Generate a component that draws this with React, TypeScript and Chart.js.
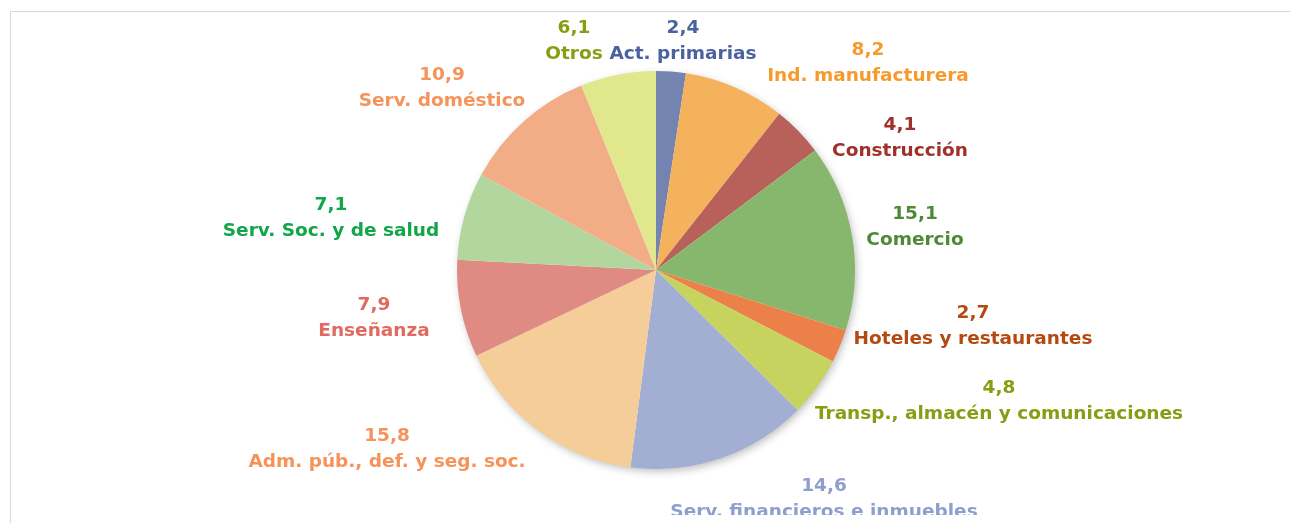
import React, { useEffect, useRef } from "react";
import { Chart, registerables } from "chart.js";

Chart.register(...registerables);

const categories = [
  "Act. primarias",
  "Ind. manufacturera",
  "Construcción",
  "Comercio",
  "Hoteles y restaurantes",
  "Transp., almacén y comunicaciones",
  "Serv. financieros e inmuebles",
  "Adm. púb., def. y seg. soc.",
  "Enseñanza",
  "Serv. Soc. y de salud",
  "Serv. doméstico",
  "Otros",
];

const shares = [2.4, 8.2, 4.1, 15.1, 2.7, 4.8, 14.6, 15.8, 7.9, 7.1, 10.9, 6.1];

const sliceColors = [
  "#7483AF", "#F5B25C", "#B8605A", "#87B76C", "#EB8149", "#C6D35E",
  "#A2AED2", "#F4CD98", "#DF8B83", "#B2D69D", "#F2AC86", "#E0E78C",
];

const labelColors = [
  "#4A62A0", "#F79A2C", "#A0302A", "#4E8A36", "#B44A12", "#8A9C14",
  "#8E9ECF", "#F6935A", "#E06A60", "#12A54A", "#F6935A", "#8A9C14",
];

// label anchor offsets (value line centre) relative to pie centre, px
const labelOffsets: [number, number][] = [
  [27, -242], [212, -220], [244, -145], [259, -56], [317, 43], [343, 118],
  [168, 216], [-269, 166], [-282, 35], [-325, -65], [-214, -195], [-82, -242],
];

const FONT = "bold 18.5px 'DejaVu Sans', sans-serif";

const shadowPlugin = {
  id: "pieShadow",
  beforeDatasetsDraw(chart: any) {
    const meta = chart.getDatasetMeta(0);
    const arc = meta.data[0];
    if (!arc) return;
    const { x, y, outerRadius } = arc.getProps(["x", "y", "outerRadius"], true);
    const ctx = chart.ctx;
    ctx.save();
    ctx.shadowColor = "rgba(0,0,0,0.28)";
    ctx.shadowBlur = 8;
    ctx.shadowOffsetX = 2;
    ctx.shadowOffsetY = 3;
    ctx.fillStyle = "#ffffff";
    ctx.beginPath();
    ctx.arc(x, y, outerRadius - 1, 0, Math.PI * 2);
    ctx.fill();
    ctx.restore();
  },
};

const labelPlugin = {
  id: "outLabels",
  afterDatasetsDraw(chart: any) {
    const meta = chart.getDatasetMeta(0);
    const arc = meta.data[0];
    if (!arc) return;
    const { x, y } = arc.getProps(["x", "y"], true);
    const ctx = chart.ctx;
    ctx.save();
    ctx.font = FONT;
    ctx.textAlign = "center";
    ctx.textBaseline = "middle";
    categories.forEach((name, i) => {
      const [dx, dy] = labelOffsets[i];
      const v = shares[i].toFixed(1).replace(".", ",");
      ctx.fillStyle = labelColors[i];
      ctx.fillText(v, x + dx, y + dy);
      ctx.fillText(name, x + dx, y + dy + 26);
    });
    ctx.restore();
  },
};

export default function App() {
  const ref = useRef<HTMLCanvasElement | null>(null);
  useEffect(() => {
    document.documentElement.style.overflow = "hidden";
    if (!ref.current) return;
    const chart = new Chart(ref.current, {
      type: "pie",
      data: {
        labels: categories,
        datasets: [
          {
            data: shares,
            backgroundColor: sliceColors,
            borderWidth: 0,
          },
        ],
      },
      options: {
        animation: false,
        responsive: false,
        maintainAspectRatio: false,
        layout: { padding: { left: 22, right: 0, top: 63, bottom: 54 } },
        plugins: {
          legend: { display: false },
          tooltip: { enabled: false },
        },
      },
      plugins: [shadowPlugin, labelPlugin],
    });
    return () => chart.destroy();
  }, []);
  return (
    <div style={{ width: 1274, height: 507, position: "relative" }}>
      <div
        style={{
          position: "fixed",
          left: 10,
          top: 11,
          right: -5,
          bottom: -5,
          borderTop: "1px solid #D9D9D9",
          borderLeft: "1px solid #D9D9D9",
          pointerEvents: "none",
        }}
      />
      <canvas
        ref={ref}
        width={1274}
        height={515}
        style={{ display: "block", position: "relative" }}
      />
    </div>
  );
}
